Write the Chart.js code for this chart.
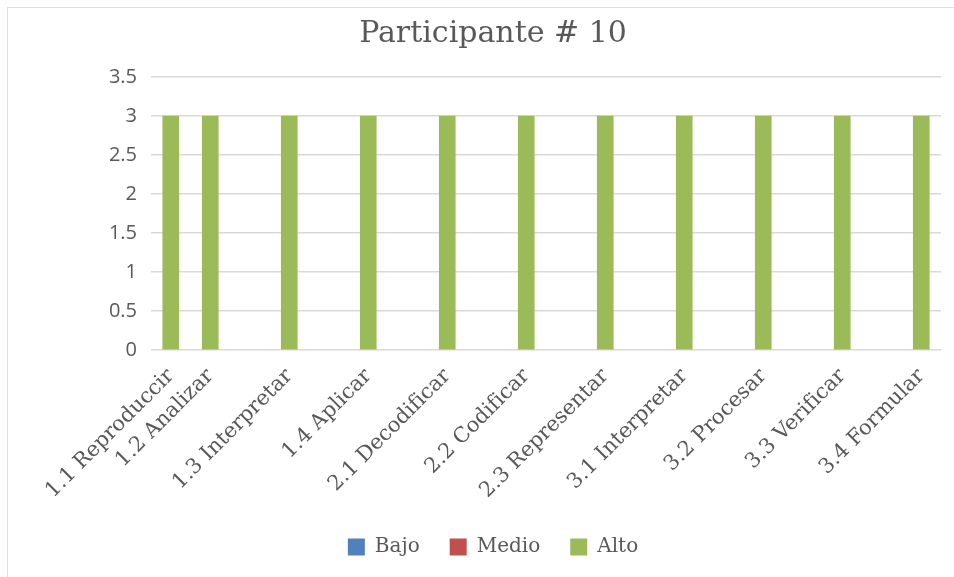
<!DOCTYPE html>
<html lang="es">
  <head>
    <meta charset="UTF-8" />
    <title>Participante # 10</title>
    <script src="https://cdn.jsdelivr.net/npm/chart.js"></script>
    <style>
      html, body { margin: 0; padding: 0; background: #fff; }
      #wrap { position: relative; width: 954px; height: 577px; overflow: hidden; }
      #frame {
        position: absolute; left: 7px; top: 7px; right: -2px; bottom: -2px;
        border-top: 1px solid #dedede; border-left: 1px solid #dedede;
      }
      #chart { position: absolute; left: 0; top: 0; }
    </style>
  </head>
  <body>
    <div id="wrap">
      <div id="frame"></div>
      <canvas id="chart" width="954" height="577"></canvas>
    </div>

    <script>
      // categories (blank slots are empty rows in the sheet)
      var labels = [
        "1.1 Reproduccir", "1.2 Analizar", "", "1.3 Interpretar", "",
        "1.4 Aplicar", "", "2.1 Decodificar", "", "2.2 Codificar", "",
        "2.3 Representar", "", "3.1 Interpretar", "", "3.2 Procesar", "",
        "3.3 Verificar", "", "3.4 Formular"
      ];
      var bajo = [null, null, null, null, null, null, null, null, null, null,
                  null, null, null, null, null, null, null, null, null, null];
      var medio = [null, null, null, null, null, null, null, null, null, null,
                   null, null, null, null, null, null, null, null, null, null];
      var alto = [3, 3, null, 3, null, 3, null, 3, null, 3,
                  null, 3, null, 3, null, 3, null, 3, null, 3];
      var yTicks = { min: 0, max: 3.5, step: 0.5 };

      var grey = "#595959";
      var ctx = document.getElementById("chart").getContext("2d");
      var chart = new Chart(ctx, {
        type: "bar",
        data: {
          labels: labels,
          datasets: [
            { label: "Bajo", data: bajo, backgroundColor: "#4f81bd" },
            { label: "Medio", data: medio, backgroundColor: "#c0504d" },
            { label: "Alto", data: alto, backgroundColor: "#9bbb59" },
          ],
        },
        options: {
          responsive: false,
          animation: false,
          grouped: false,
          barThickness: 16,
          layout: { padding: { left: 45, right: 13, top: 12, bottom: 10 } },
          plugins: {
            title: {
              display: true,
              text: "Participante # 10",
              color: grey,
              font: { family: "DejaVu Serif", size: 30, weight: "normal" },
              padding: { top: 4, bottom: 25 },
            },
            legend: {
              position: "bottom",
              labels: {
                color: grey,
                boxWidth: 17,
                boxHeight: 17,
                padding: 30,
                font: { family: "DejaVu Serif", size: 20 },
              },
            },
            tooltip: { enabled: false },
          },
          scales: {
            x: {
              grid: { display: false },
              border: { display: false },
              ticks: {
                color: grey,
                autoSkip: false,
                maxRotation: 45,
                minRotation: 45,
                padding: 6,
                font: { family: "DejaVu Serif", size: 21 },
              },
              afterFit: function (scale) { scale.height = 157; },
            },
            y: {
              min: yTicks.min,
              max: yTicks.max,
              grid: { color: "#d9d9d9", lineWidth: 1.5, drawTicks: false },
              border: { display: false },
              ticks: {
                stepSize: yTicks.step,
                color: grey,
                padding: 14,
                font: { family: "Open Sans", size: 20 },
                callback: function (v) { return String(v); },
              },
              afterFit: function (scale) { scale.width = 106; },
            },
          },
        },
      });
    </script>
  </body>
</html>
